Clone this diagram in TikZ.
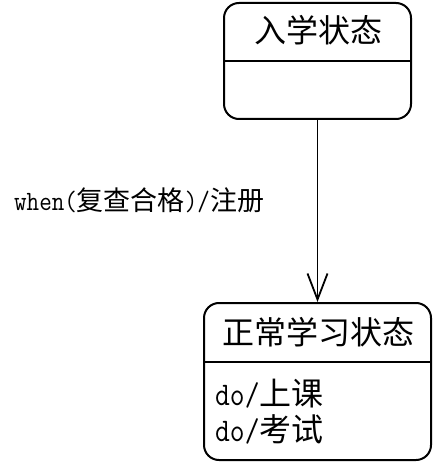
\documentclass[tikz,border=0pt]{standalone}
\usepackage{fontspec}
\newfontfamily\cjk{Noto Sans CJK SC}
\newfontfamily\lat[FakeStretch=0.87]{Latin Modern Mono}
\usetikzlibrary{arrows.meta}

\tikzset{
  statebox/.style={draw, line width=2pt, rounded corners=15pt, inner sep=0pt},
  divider/.style={line width=2pt},
  trans/.style={line width=1.6pt, -{Straight Barb[length=26pt,width=20pt,line width=1.8pt]}},
  title/.style={font=\cjk\fontsize{32}{34}\selectfont, inner sep=0pt},
  act/.style={anchor=west, inner sep=0pt, font=\lat\fontsize{33}{36}\selectfont},
  lbl/.style={anchor=west, inner sep=0pt, font=\lat\fontsize{28}{30}\selectfont}
}

\begin{document}
\begin{tikzpicture}[x=1pt,y=-1pt]
  \useasboundingbox (0,0) rectangle (433,462);

  % initial state: enrolment
  \node[statebox, minimum width=187pt, minimum height=116pt] (s1) at (317.5,61) {};
  \draw[divider] (s1.west |- {(0,61)}) -- (s1.east |- {(0,61)});
  \node[title] (t1) at (318,30) {入学状态};

  % regular study state
  \node[statebox, minimum width=227pt, minimum height=157pt] (s2) at (317.5,381.5) {};
  \draw[divider] (s2.west |- {(0,362)}) -- (s2.east |- {(0,362)});
  \node[title] (t2) at (318,332) {正常学习状态};
  \node[act] (a1) at (215,394) {do/{\cjk\fontsize{32}{34}\selectfont 上课}};
  \node[act] (a2) at (215,429) {do/{\cjk\fontsize{32}{34}\selectfont 考试}};

  % transition
  \draw[trans] (s1.south) -- (s2.north);
  \node[lbl] (l1) at (14,200) {when({\cjk\fontsize{27}{28}\selectfont 复查合格})/{\cjk\fontsize{27}{28}\selectfont 注册}};
\end{tikzpicture}
\end{document}
